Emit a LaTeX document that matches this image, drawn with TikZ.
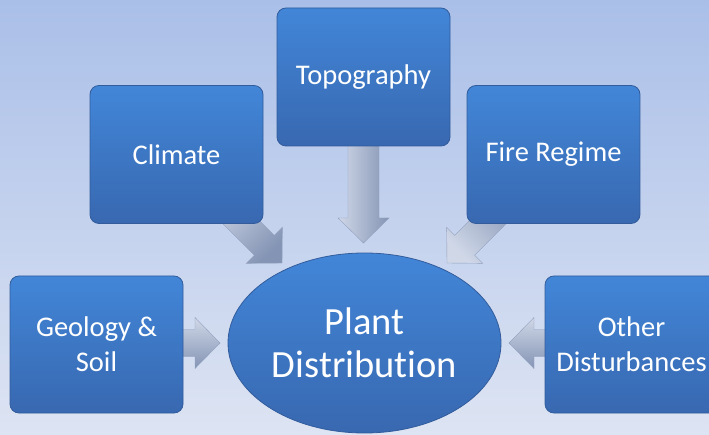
\documentclass[tikz,border=0pt]{standalone}
\usepackage{fontspec}
\setmainfont{Carlito}[Ligatures=NoCommon]
\usetikzlibrary{shapes.geometric,calc}
\definecolor{bgtop}{RGB}{170,191,232}
\definecolor{bgbot}{RGB}{221,228,243}
\definecolor{boxtop}{RGB}{66,134,216}
\definecolor{boxbot}{RGB}{56,104,176}
\definecolor{boxedge}{RGB}{50,92,156}
\definecolor{arrlight}{RGB}{208,216,232}
\definecolor{arrdark}{RGB}{132,148,180}
\definecolor{arredge}{RGB}{145,160,190}
\tikzset{
  factor/.style={rectangle, rounded corners=9pt, draw=boxedge, line width=0.8pt,
    top color=boxtop, bottom color=boxbot, text=white, align=center,
    minimum width=173pt, minimum height=138pt, inner sep=2pt,
    font=\fontsize{28.5}{35}\selectfont},
  hub/.style={ellipse, draw=boxedge, line width=0.8pt,
    top color=boxtop, bottom color=boxbot, text=white, align=center,
    minimum width=273pt, minimum height=180pt, inner sep=0pt,
    font=\fontsize{38.5}{43}\selectfont},
  blockarr/.style={draw=arredge, line width=0.4pt, left color=arrlight, right color=arrdark}
}
% #1 start, #2 tip, #3 shading angle, #4 shaft half width
\newcommand\blkarrow[4]{%
  \coordinate (h-#1-#2) at ($(#2)!25pt!(#1)$);
  \path[blockarr, shading angle=#3]
    ($(#1)!#4!90:(#2)$) -- ($(h-#1-#2)!#4!90:(#2)$) -- ($(h-#1-#2)!25.5pt!90:(#2)$)
    -- (#2) -- ($(h-#1-#2)!25.5pt!-90:(#2)$) -- ($(h-#1-#2)!#4!-90:(#2)$)
    -- ($(#1)!#4!-90:(#2)$) -- cycle;
}
\begin{document}
\begin{tikzpicture}[x=1pt,y=-1pt]
\useasboundingbox (0,0) rectangle (709,435);
\fill[top color=bgtop, bottom color=bgbot] (0,0) rectangle (709,435);
% arrow end points
\coordinate (sTop) at (363.5,140);
\coordinate (tTop) at (363.5,243);
\coordinate (sCli) at (215,196);
\coordinate (tCli) at (282,263);
\coordinate (sFir) at (514,196);
\coordinate (tFir) at (447,263);
\coordinate (sGeo) at (175,343);
\coordinate (tGeo) at (220,343);
\coordinate (sOth) at (555,343);
\coordinate (tOth) at (509,343);
\blkarrow{sTop}{tTop}{90}{15.5pt}
\blkarrow{sCli}{tCli}{45}{14pt}
\blkarrow{sFir}{tFir}{135}{14pt}
\blkarrow{sGeo}{tGeo}{0}{13.5pt}
\blkarrow{sOth}{tOth}{0}{13.5pt}
% boxes
\node[factor] (climate) at (176.5,154.5) {Climate};
\node[factor] (topo) at (363.5,77) {Topography};
\node[factor] (fire) at (553.5,154.5) {Fire Regime};
\node[factor, minimum height=137pt] (geo) at (96.5,344.5) {Geology \&\\Soil};
\node[factor, minimum height=137pt] (other) at (631.5,344.5) {Other\\Disturbances};
\node[hub] (plant) at (364.5,343) {Plant\\Distribution};
\end{tikzpicture}
\end{document}
